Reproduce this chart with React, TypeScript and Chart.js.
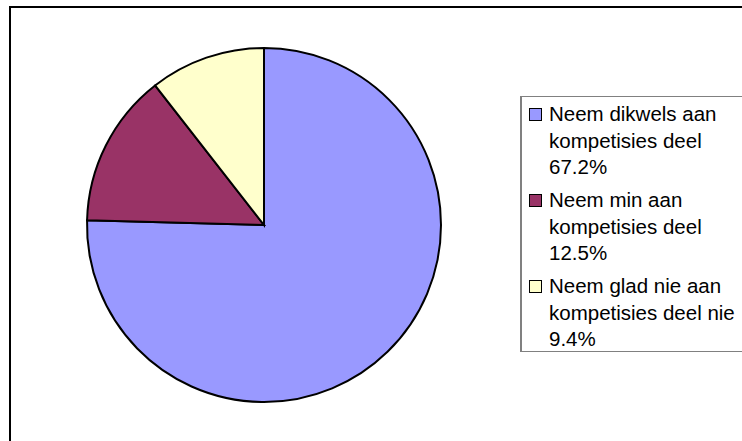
import React, { useEffect, useRef } from "react";
import { Chart, registerables } from "chart.js";

Chart.register(...registerables);

const labelLines: string[][] = [
  ["Neem dikwels aan", "kompetisies deel"],
  ["Neem min aan", "kompetisies deel"],
  ["Neem glad nie aan", "kompetisies deel nie"],
];
const values: number[] = [67.2, 12.5, 9.4];
const colors: string[] = ["#9999FF", "#993366", "#FFFFCC"];

export default function App() {
  const ref = useRef<HTMLCanvasElement | null>(null);

  useEffect(() => {
    if (!ref.current) return;
    const chart = new Chart(ref.current, {
      type: "pie",
      data: {
        labels: labelLines.map((l) => l.join(" ")),
        datasets: [
          {
            data: values,
            backgroundColor: colors,
            borderColor: "#000000",
            borderWidth: 2,
            borderJoinStyle: "miter",
          },
        ],
      },
      options: {
        animation: false,
        responsive: false,
        maintainAspectRatio: false,
        layout: { padding: 2 },
        plugins: {
          legend: { display: false },
          tooltip: { enabled: false },
        },
      },
    });
    return () => chart.destroy();
  }, []);

  return (
    <div
      style={{
        position: "fixed",
        left: 0,
        top: 0,
        width: 742,
        height: 441,
        overflow: "hidden",
        background: "#fff",
        fontFamily: "'Liberation Sans', Arial, sans-serif",
      }}
    >
      <div
        style={{
          position: "absolute",
          left: 9,
          top: 6,
          width: 800,
          height: 500,
          borderTop: "2px solid #000",
          borderLeft: "2px solid #000",
        }}
      />
      <canvas
        ref={ref}
        width={360}
        height={360}
        style={{ position: "absolute", left: 84, top: 45, width: 360, height: 360 }}
      />
      <div
        style={{
          position: "absolute",
          left: 520,
          top: 96,
          width: 300,
          height: 256,
          border: "1px solid #808080",
          borderLeft: "2px solid #808080",
          boxSizing: "border-box",
        }}
      >
        {labelLines.map((lines, i) => (
          <div
            key={i}
            style={{
              position: "absolute",
              left: 7,
              top: 4 + i * 86,
              display: "flex",
              alignItems: "flex-start",
            }}
          >
            <div
              style={{
                width: 11,
                height: 11,
                marginTop: 7,
                marginRight: 7,
                background: colors[i],
                border: "1px solid #000",
                flex: "none",
              }}
            />
            <div
              style={{
                fontSize: 20.5,
                lineHeight: "26.5px",
                color: "#000",
                whiteSpace: "nowrap",
              }}
            >
              {lines.map((t, j) => (
                <div key={j}>{t}</div>
              ))}
              <div>{values[i].toFixed(1)}%</div>
            </div>
          </div>
        ))}
      </div>
    </div>
  );
}
